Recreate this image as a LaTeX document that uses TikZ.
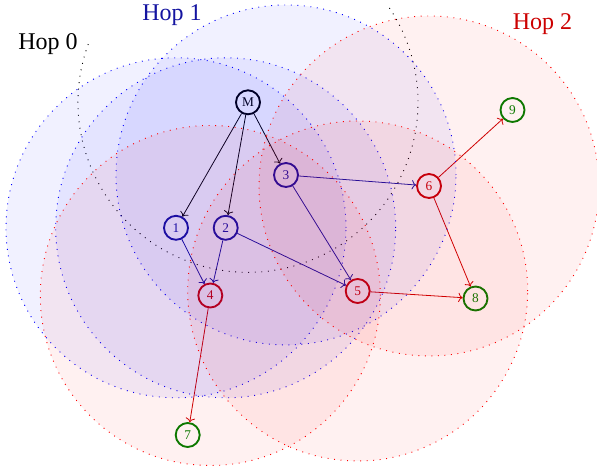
\documentclass[tikz,border=0pt]{standalone}
\usepackage{fontspec}
\setmainfont{Liberation Serif}
\usetikzlibrary{arrows.meta}
\definecolor{hopblue}{RGB}{20,20,160}
\definecolor{hopred}{RGB}{204,0,0}
\definecolor{hopgreen}{RGB}{0,128,0}
\begin{document}
\begin{tikzpicture}[x=0.75pt,y=0.75pt,
  nd/.style={circle,draw,line width=1.4pt,minimum size=18pt,inner sep=0pt,font=\fontsize{10}{11}\selectfont},
  nblack/.style={nd,draw=black,text=black},
  nblue/.style={nd,draw=hopblue,text=hopblue},
  nred/.style={nd,draw=hopred,text=hopred},
  ngreen/.style={nd,draw=hopgreen,text=hopgreen},
  edge/.style={-{To[length=3.2pt,width=7pt]},line width=0.6pt},
  hopdots/.style={line width=0.7pt,dash pattern=on 0.7pt off 4.2pt},
  bluecirc/.style={hopdots,draw=blue,fill=blue,fill opacity=0.055},
  redcirc/.style={hopdots,draw=red,fill=red,fill opacity=0.055},
  hoplabel/.style={anchor=base,font=\fontsize{18}{20}\selectfont}
]
\clip (0,0) rectangle (597,465);

% nodes
\node[nblack] (M) at (248,362.7) {M};
\node[nblue] (n1) at (176,237.2) {1};
\node[nblue] (n2) at (225.7,237.2) {2};
\node[nblue] (n3) at (286,290) {3};
\node[nred] (n4) at (210.3,169.5) {4};
\node[nred] (n5) at (357.7,174) {5};
\node[nred] (n6) at (429,279) {6};
\node[ngreen] (n7) at (187.7,30) {7};
\node[ngreen] (n8) at (475.5,166.5) {8};
\node[ngreen] (n9) at (512.5,355) {9};

% edges
\draw[edge,black] (M) -- (n1);
\draw[edge,black] (M) -- (n2);
\draw[edge,black] (M) -- (n3);
\draw[edge,hopblue] (n1) -- (n4);
\draw[edge,hopblue] (n2) -- (n4);
\draw[edge,hopblue] (n2) -- (n5);
\draw[edge,hopblue] (n3) -- (n5);
\draw[edge,hopblue] (n3) -- (n6);
\draw[edge,hopred] (n4) -- (n7);
\draw[edge,hopred] (n5) -- (n8);
\draw[edge,hopred] (n6) -- (n8);
\draw[edge,hopred] (n6) -- (n9);

% hop ranges
\draw[hopdots,black] (M.center) ++(160:170) arc[start angle=160,end angle=394.7,radius=170];
\foreach \n in {n1,n2,n3} \path[bluecirc] (\n.center) circle[radius=170];
\foreach \n in {n4,n5,n6} \path[redcirc] (\n.center) circle[radius=170];

% labels
\node[hoplabel,text=black] (h0) at (48,415.7) {Hop 0};
\node[hoplabel,text=hopblue] (h1) at (172,444.3) {Hop 1};
\node[hoplabel,text=hopred] (h2) at (542.5,435) {Hop 2};
\end{tikzpicture}
\end{document}
